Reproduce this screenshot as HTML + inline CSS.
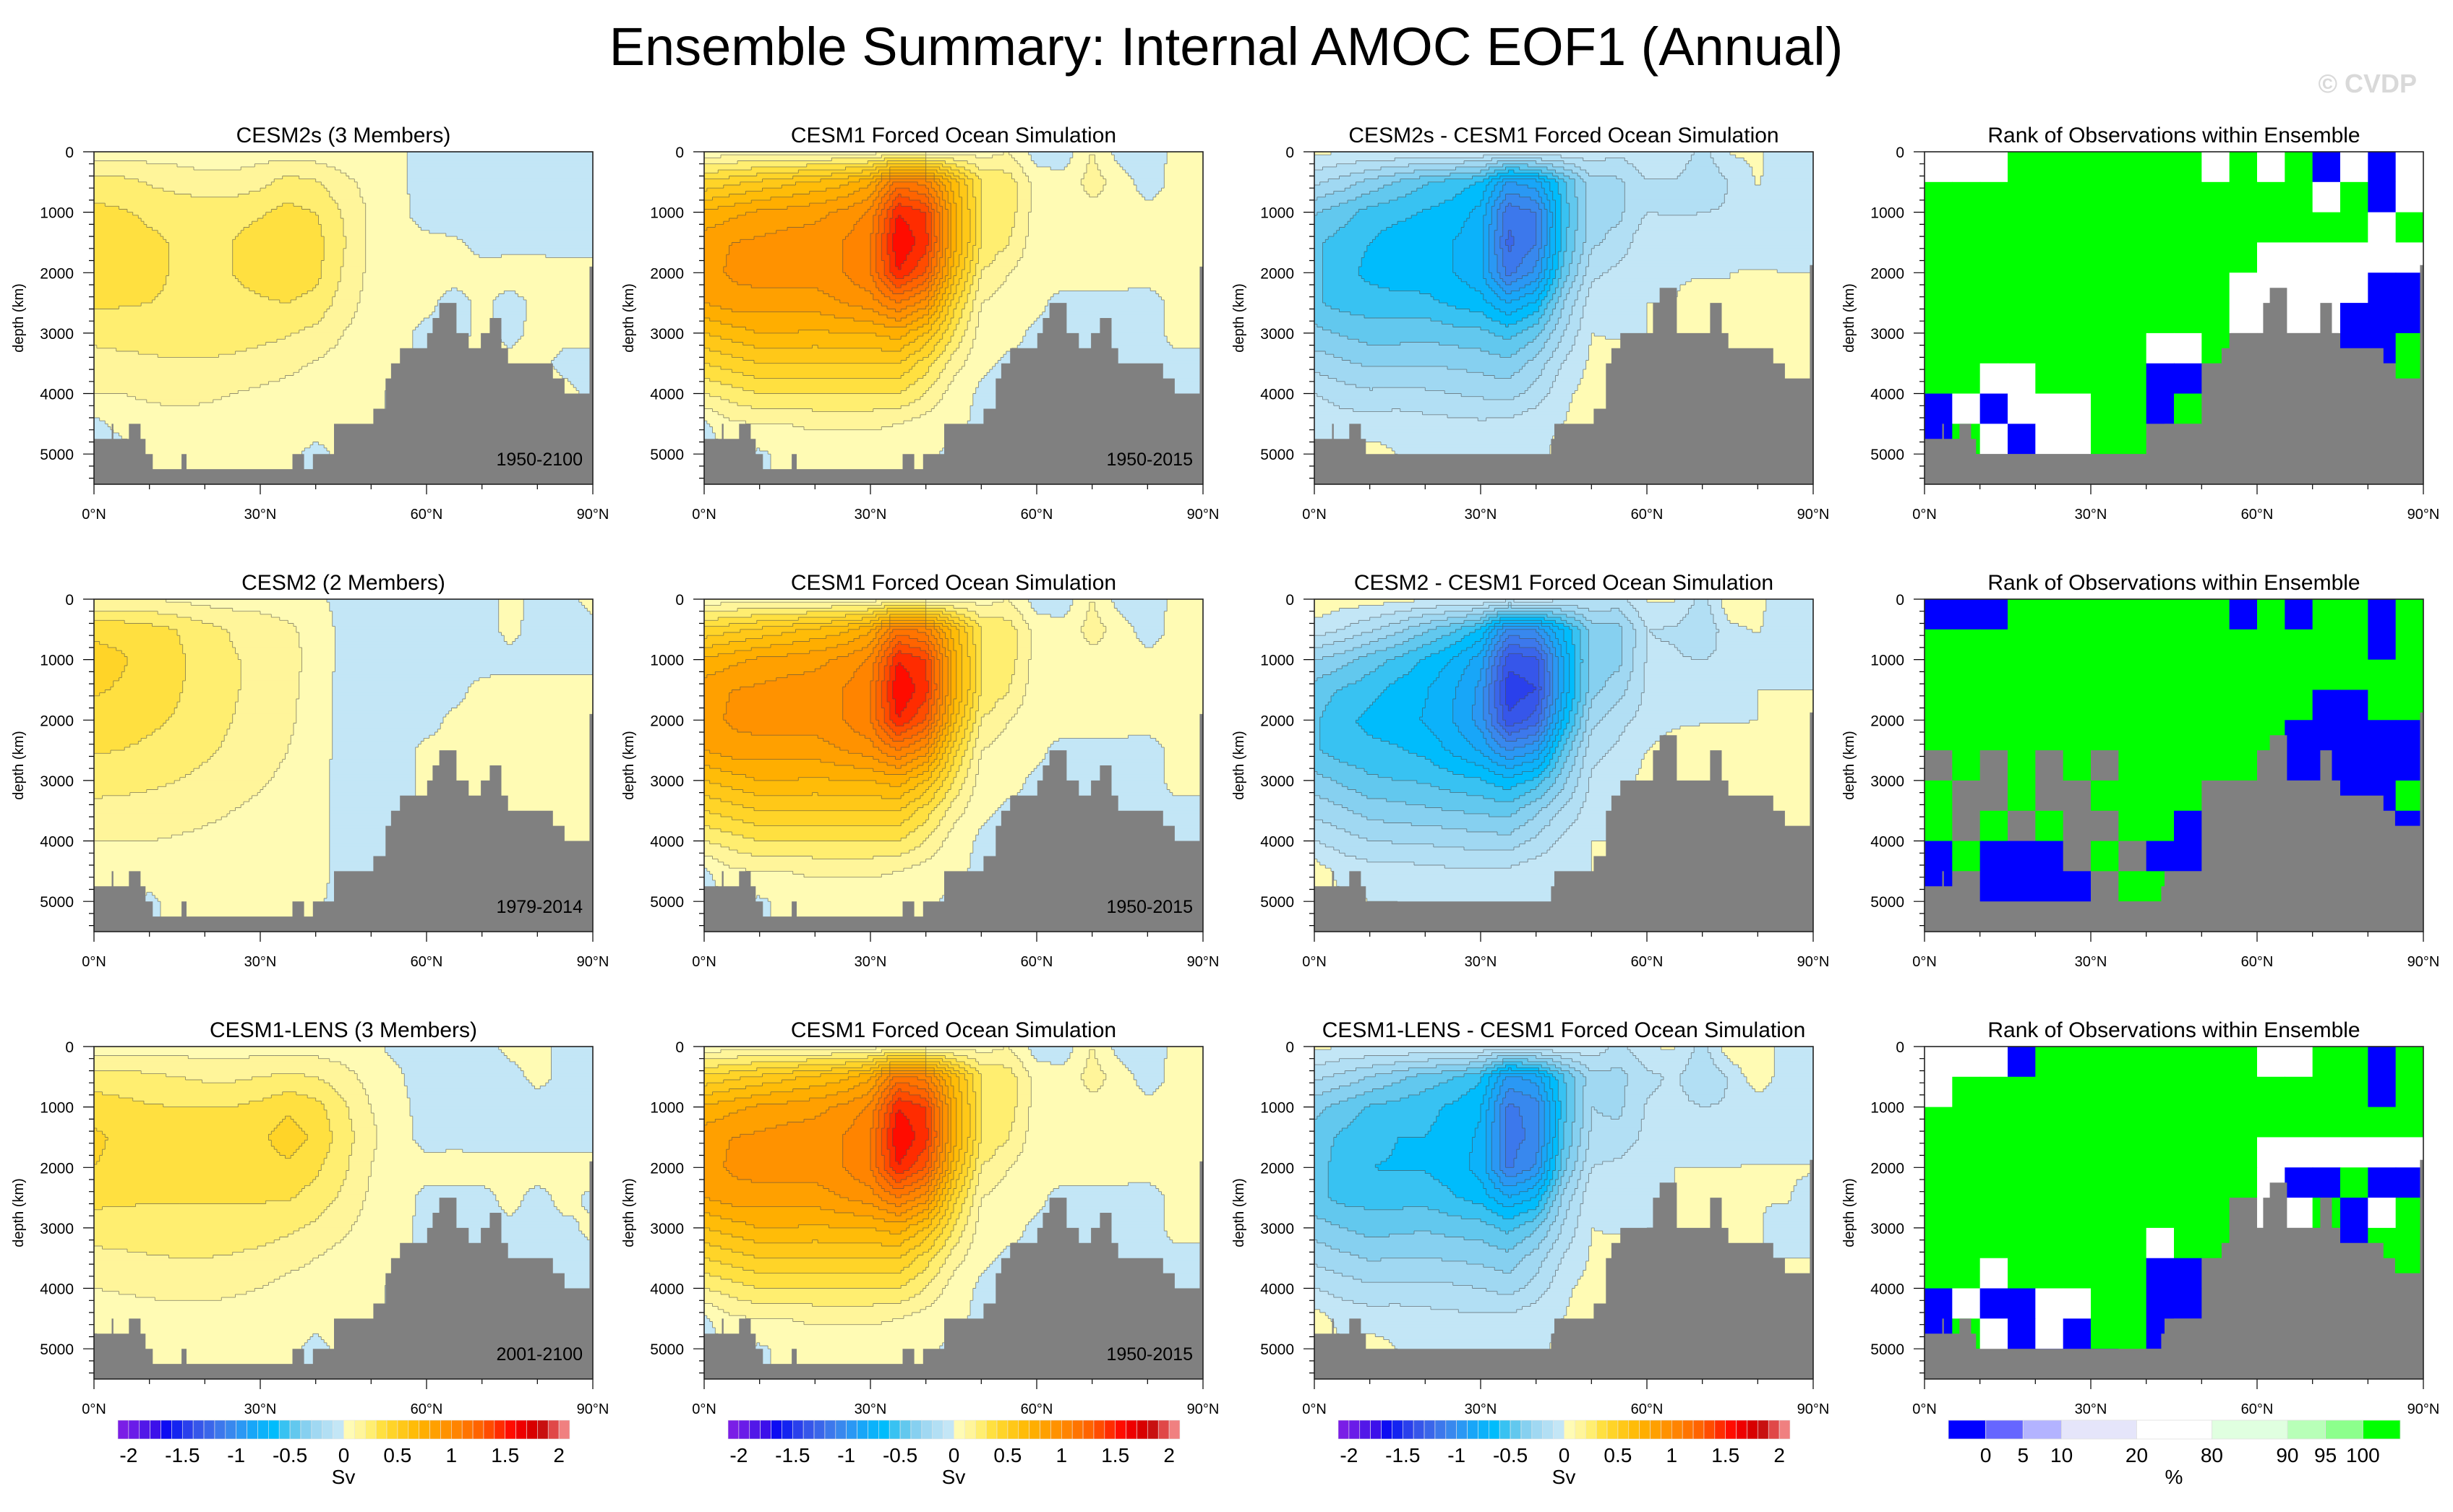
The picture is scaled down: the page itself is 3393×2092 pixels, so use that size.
<!DOCTYPE html>
<html><head><meta charset="utf-8">
<style>
html,body{margin:0;padding:0;background:#fff;}
body{width:3393px;height:2087px;overflow:hidden;font-family:"Liberation Sans",sans-serif;}
svg text{font-family:"Liberation Sans",sans-serif;}
</style></head>
<body>
<svg id="fig" xmlns="http://www.w3.org/2000/svg" width="3393" height="2087" viewBox="0 0 3393 2087">
<text x="1696" y="90" font-size="74" text-anchor="middle" fill="#000">Ensemble Summary: Internal AMOC EOF1 (Annual)</text>
<text x="3343" y="128" font-size="36" font-weight="bold" text-anchor="end" fill="#d9d9d9">© CVDP</text>
</svg>
<script>
// ---------- data ----------
const lats=[0,5,10,15,20,25,30,35,40,45,50,55,60,65,70,75,80,85,90];
const depths=[0,500,1000,1500,2000,2500,3000,3500,4000,4500,5000,5500];
const xTickLabels=["0°N","30°N","60°N","90°N"];
const xTickValues=[0,30,60,90];
const yTickValues=[0,1000,2000,3000,4000,5000];
const svTickLabels=["-2","-1.5","-1","-0.5","0","0.5","1","1.5","2"];
const pctTickLabels=["0","5","10","20","80","90","95","100"];
const pctBounds=[0,51.7,103.3,156.6,260.5,364.4,468.9,521.6,573.3,625];

const cesm2sField=[
[0.05,0.05,0.05,0.05,0.05,0.05,0.05,0.05,0.04,0.03,0.02,0.02,-0.05,-0.05,-0.04,-0.04,-0.04,-0.04,-0.04],
[0.24,0.23,0.19,0.16,0.13,0.13,0.17,0.24,0.21,0.13,0.06,0.03,-0.06,-0.08,-0.05,-0.04,-0.04,-0.04,-0.04],
[0.33,0.31,0.28,0.27,0.26,0.27,0.29,0.33,0.3,0.19,0.08,0.03,-0.05,-0.08,-0.04,-0.04,-0.04,-0.04,-0.04],
[0.38,0.36,0.32,0.29,0.29,0.3,0.34,0.37,0.34,0.21,0.08,0.03,0.03,0.02,-0.03,-0.03,-0.03,-0.03,-0.03],
[0.38,0.36,0.32,0.29,0.29,0.3,0.33,0.36,0.33,0.19,0.07,0.03,0.03,0.03,0.03,0.04,0.04,0.03,0.03],
[0.32,0.31,0.3,0.29,0.28,0.28,0.29,0.3,0.27,0.15,0.06,0.03,0.02,-0.03,0.02,-0.03,0.02,0.02,0.02],
[0.23,0.24,0.25,0.25,0.25,0.24,0.23,0.21,0.17,0.1,0.05,0.02,-0.02,-0.03,0.02,-0.02,0.02,0.02,0.02],
[0.16,0.17,0.18,0.19,0.19,0.18,0.16,0.13,0.09,0.06,0.04,0.02,-0.02,0.02,0.02,0.02,0.02,-0.02,-0.02],
[0.1,0.1,0.12,0.13,0.12,0.1,0.08,0.06,0.04,0.03,0.02,-0.02,0.02,0.02,0.02,0.02,0.02,0.02,-0.02],
[-0.03,0.03,0.05,0.06,0.06,0.05,0.04,0.03,0.03,0.02,0.02,-0.02,0.02,0.02,0.02,0.02,0.02,0.02,0.02],
[-0.05,-0.04,0.02,0.03,0.03,0.03,0.02,0.02,-0.02,0.02,0.02,0.02,0.02,0.02,0.02,0.02,0.02,0.02,0.02],
[-0.05,-0.04,0.02,0.03,0.03,0.03,0.02,0.02,-0.02,0.02,0.02,0.02,0.02,0.02,0.02,0.02,0.02,0.02,0.02]];

const cesm2Field=[
[0.1,0.1,0.1,0.08,0.06,0.05,0.05,0.04,0.03,-0.04,-0.04,-0.04,-0.04,-0.04,-0.04,0.03,-0.03,-0.03,0.03],
[0.38,0.37,0.34,0.3,0.24,0.19,0.16,0.12,0.06,-0.03,-0.06,-0.08,-0.05,-0.08,-0.05,0.03,-0.04,-0.04,-0.03],
[0.43,0.41,0.37,0.32,0.26,0.21,0.17,0.14,0.06,-0.03,-0.05,-0.08,-0.04,-0.06,-0.04,-0.03,-0.03,-0.03,-0.03],
[0.41,0.39,0.36,0.31,0.26,0.21,0.17,0.13,0.05,-0.03,-0.04,-0.04,-0.04,-0.03,0.03,0.03,0.03,0.03,0.03],
[0.37,0.35,0.32,0.29,0.24,0.2,0.16,0.12,0.05,-0.03,-0.04,-0.03,-0.03,0.02,0.03,0.03,0.03,0.03,0.03],
[0.31,0.3,0.28,0.26,0.22,0.18,0.14,0.1,0.04,-0.03,-0.03,-0.03,0.02,0.02,0.03,0.03,0.03,0.03,0.03],
[0.24,0.23,0.22,0.2,0.17,0.14,0.11,0.08,0.03,-0.03,-0.03,-0.03,0.02,0.02,0.02,0.02,0.02,0.02,0.02],
[0.17,0.17,0.16,0.14,0.12,0.1,0.08,0.06,0.03,-0.03,-0.03,-0.02,0.02,0.02,0.02,0.02,0.02,0.02,0.02],
[0.1,0.1,0.1,0.09,0.08,0.07,0.05,0.04,0.02,-0.02,-0.02,-0.02,0.02,0.02,0.02,0.02,0.02,0.02,0.02],
[0.04,0.05,0.05,0.05,0.05,0.04,0.03,0.02,0.02,-0.02,-0.02,-0.02,0.02,0.02,0.02,0.02,0.02,0.02,0.02],
[-0.03,0.02,-0.02,0.03,0.03,0.02,0.02,0.02,0.01,-0.02,-0.02,-0.02,0.02,0.02,0.02,0.02,0.02,0.02,0.02],
[-0.03,0.02,-0.02,0.03,0.03,0.02,0.02,0.02,0.01,-0.02,-0.02,-0.02,0.02,0.02,0.02,0.02,0.02,0.02,0.02]];

const lensField=[
[0.05,0.05,0.05,0.05,0.05,0.05,0.05,0.05,0.05,0.04,0.03,-0.04,-0.05,-0.04,-0.04,0.03,0.03,-0.03,-0.03],
[0.25,0.24,0.22,0.2,0.18,0.18,0.2,0.22,0.2,0.14,0.06,0.02,-0.08,-0.05,-0.04,-0.04,0.03,-0.03,-0.03],
[0.35,0.33,0.31,0.3,0.3,0.3,0.33,0.38,0.34,0.22,0.1,0.03,-0.04,-0.04,-0.04,-0.04,-0.04,-0.04,-0.04],
[0.42,0.38,0.36,0.35,0.35,0.36,0.38,0.45,0.38,0.25,0.12,0.03,-0.03,-0.03,-0.04,-0.04,-0.04,-0.04,-0.04],
[0.4,0.37,0.35,0.34,0.34,0.35,0.36,0.38,0.32,0.22,0.1,0.03,0.03,0.04,0.04,0.04,0.04,0.04,0.04],
[0.33,0.32,0.31,0.31,0.31,0.31,0.31,0.31,0.26,0.18,0.08,0.03,-0.02,-0.03,-0.03,0.03,-0.03,0.03,-0.02],
[0.25,0.25,0.26,0.27,0.27,0.26,0.25,0.22,0.18,0.12,0.05,0.02,-0.02,-0.03,-0.02,-0.02,-0.02,-0.02,0.02],
[0.17,0.18,0.19,0.2,0.2,0.19,0.17,0.14,0.1,0.06,0.03,0.02,-0.02,-0.02,-0.02,-0.02,-0.02,-0.02,-0.02],
[0.1,0.11,0.12,0.13,0.13,0.12,0.1,0.06,0.04,0.03,0.02,-0.02,-0.02,-0.02,-0.02,-0.02,-0.02,-0.02,-0.02],
[0.03,0.05,0.06,0.06,0.06,0.05,0.04,0.03,0.02,0.02,0.02,-0.02,-0.02,-0.02,-0.02,-0.02,-0.02,-0.02,-0.02],
[-0.03,0.02,0.02,0.03,0.03,0.02,0.02,0.02,-0.02,0.02,0.02,-0.02,-0.02,-0.02,-0.02,-0.02,-0.02,-0.02,-0.02],
[-0.03,0.02,0.02,0.03,0.03,0.02,0.02,0.02,-0.02,0.02,0.02,-0.02,-0.02,-0.02,-0.02,-0.02,-0.02,-0.02,-0.02]];

const forcedField=[
[0.02,0.05,0.05,0.05,0.05,0.05,0.05,0.1,0.05,0.05,0.05,0.1,-0.05,-0.05,0.1,-0.05,-0.06,0.03,0.03],
[0.42,0.47,0.52,0.57,0.62,0.67,0.78,1.15,1.05,0.65,0.3,0.25,0.05,0.03,0.15,0.05,-0.05,0.03,0.03],
[0.72,0.77,0.82,0.84,0.87,0.92,1.02,1.5,1.4,0.75,0.3,0.25,0.05,0.03,0.06,0.05,0.03,0.03,0.03],
[0.86,0.9,0.92,0.95,0.95,1.0,1.1,1.6,1.45,0.75,0.3,0.2,0.04,0.04,0.04,0.04,0.03,0.03,0.03],
[0.85,0.92,0.95,0.95,0.95,1.0,1.1,1.5,1.3,0.65,0.2,0.1,0.03,0.04,0.04,0.04,0.03,0.03,0.03],
[0.8,0.85,0.85,0.85,0.85,0.9,0.95,1.1,0.95,0.45,0.1,0.05,0.02,-0.03,-0.03,-0.03,-0.03,0.02,0.02],
[0.6,0.65,0.7,0.7,0.68,0.7,0.7,0.75,0.6,0.3,0.05,0.03,-0.02,-0.03,-0.03,-0.03,-0.03,0.02,0.02],
[0.4,0.45,0.5,0.5,0.5,0.5,0.5,0.5,0.35,0.15,0.02,-0.02,-0.02,-0.02,-0.02,-0.02,-0.02,-0.02,-0.02],
[0.2,0.25,0.3,0.3,0.3,0.3,0.3,0.3,0.2,0.05,-0.02,-0.02,-0.02,-0.02,-0.02,-0.02,-0.02,-0.02,-0.02],
[-0.02,0.08,0.1,0.1,0.12,0.12,0.12,0.1,0.05,0.02,-0.02,-0.02,-0.02,-0.02,-0.02,-0.02,-0.02,-0.02,-0.02],
[-0.05,0.0,-0.02,0.03,0.04,0.04,0.03,0.02,0.02,-0.02,-0.02,-0.02,-0.02,-0.02,-0.02,-0.02,-0.02,-0.02,-0.02],
[-0.05,0.0,-0.02,0.03,0.04,0.04,0.03,0.02,0.02,-0.02,-0.02,-0.02,-0.02,-0.02,-0.02,-0.02,-0.02,-0.02,-0.02]];

// rank categories per 5deg x 500m: B=<0, W=20-80, G=>100, X=missing
const rank1=["WWWGGGGGGGWGWGBWBW","GGGGGGGGGGGGGGWGBW","GGGGGGGGGGGGGGGGWG","GGGGGGGGGGGGWWWWWW","GGGGGGGGGGGWWWWWBB","GGGGGGGGGGGWWWWBBB","GGGGGGGGWWGXXXXBBG","GGWWGGGGBBXXXXXXXG","BWBWWWGGBGXXXXXXXX","BGWBWWGGXXXXXXXXXX","XXXXXXXXXXXXXXXXXX"];
const rank2=["BBBGGGGGGGGBGBGGBG","GGGGGGGGGGGGGGGGBG","GGGGGGGGGGGGGGGGGG","GGGGGGGGGGGGGGBBGG","GGGGGGGGGGGGGBBBBB","XGXGXGXGGGGGXBBBBB","GXXGXXGGGGXXXXXBBG","GXGXGXXGGBXXXXXXBB","BGBBBXGXBBXXXXXXXX","BXBBBBXGGXXXXXXXXX","XXBBBBXXXXXXXXXXXX"];
const rank3=["WWWBGGGGGGGGWWGGBG","WGGGGGGGGGGGGGGGBG","GGGGGGGGGGGGGGGGGG","GGGGGGGGGGGGWWWWWW","GGGGGGGGGGGGWBBGBB","GGGGGGGGGGGXWWGBWG","GGGGGGGGWGGXXXXBGG","GGWGGGGGBBXXXXXXGG","BWBBWWGGBBXXXXXXXX","BGWBWBGGBXXXXXXXXX","XXWBBBBGXXXXXXXXXX"];

const bathyBLat=[0,3.2,3.5,6.3,8.4,9.3,10.6,15.8,16.7,35.8,37.9,39.5,43.3,50.4,52.6,53.6,55.2,60.1,61.1,62.3,65.4,67.6,69.8,71.4,73.5,74.7,82.8,84.9,89.4];
const bathyBDep=[4750,4500,4750,4500,4750,5000,5250,5000,5250,5000,5250,5000,4500,4250,3750,3500,3250,3000,2750,2500,3000,3250,3000,2750,3250,3500,3750,4000,1900];
const bathyCLat=[0,3.2,3.5,6.3,8.4,9.3,42.7,43.3,50.4,52.6,53.6,55.2,61.1,62.3,65.4,71.4,73.5,74.7,82.8,84.9,89.4];
const bathyCDep=[4750,4500,4750,4500,4750,5000,4750,4500,4250,3500,3250,3000,2500,2250,3000,2500,3000,3250,3500,3750,1875];

const posColors=['#fffbb4','#fff59a','#ffee70','#ffe040','#ffd428','#ffc818','#ffbc08','#ffae00','#ffa000','#ff9200','#ff8400','#ff7400','#ff6400','#ff4c00','#ff2c00','#ff0c00','#ee0000','#d80000','#c81010','#e04848','#f08080','#ffb4b4'];
const negColors=['#c3e6f6','#b2dff4','#a0d8f2','#86d0f0','#62c8ee','#38c2f2','#00bcfc','#0cb2fa','#18a6f8','#2a98f4','#3888ee','#3c78ec','#3a66ea','#3656ea','#2a40ec','#1424f0','#0d0cf2','#3c10ea','#5218e8','#6a1ce8','#7a1ee6'];
const rankColors={B:'#0000ff',W:'#ffffff',G:'#00ff00',X:'#808080'};
const pctColors=['#0000ff','#6666ff','#b3b3ff','#e5e5fa','#ffffff','#e0ffe0','#b8ffb8','#8cff8c','#00ff00'];

// ---------- layout ----------
const NS='http://www.w3.org/2000/svg';
const svg=document.getElementById('fig');
const colX=[130,974,1818,2662], rowY=[210,829,1448], PW=690, PH=460, DMAX=5500;
function el(tag,attrs,parent){const e=document.createElementNS(NS,tag);for(const k in attrs)e.setAttribute(k,attrs[k]);(parent||svg).appendChild(e);return e;}
function txt(s,attrs,parent){const e=el('text',attrs,parent);e.textContent=s;return e;}
function xScale(x0,lat){return x0+lat/90*PW;}
function yScale(y0,d){return y0+d/DMAX*PH;}
function sample(f,lat,d){let i=Math.min(lats.length-1.0001,lat/5), j=Math.min(depths.length-1.0001,d/500);
 const i0=Math.floor(i), j0=Math.floor(j), fi=i-i0, fj=j-j0;
 return (f[j0][i0]*(1-fi)+f[j0][i0+1]*fi)*(1-fj)+(f[j0+1][i0]*(1-fi)+f[j0+1][i0+1]*fi)*fj;}
function colorBin(v){if(v>=0)return Math.min(21,Math.floor(v/0.1)); return -1-Math.min(20,Math.floor(-v/0.1));}
function binColor(b){return b>=0?posColors[b]:negColors[-1-b];}
function diffField(a,b){return a.map((r,j)=>r.map((v,i)=>v-b[j][i]));}

function drawField(g,x0,y0,f){
 const NX=180,NY=110,dl=90/NX,dd=DMAX/NY;
 const bins=[];
 for(let j=0;j<NY;j++){bins.push([]);for(let i=0;i<NX;i++)bins[j].push(colorBin(sample(f,(i+0.5)*dl,(j+0.5)*dd)));}
 for(let j=0;j<NY;j++){let i=0;while(i<NX){let k=i;while(k+1<NX&&bins[j][k+1]===bins[j][i])k++;
  const r=el('rect',{x:xScale(x0,i*dl).toFixed(2),y:yScale(y0,j*dd).toFixed(2),width:(xScale(x0,(k+1)*dl)-xScale(x0,i*dl)+0.6).toFixed(2),height:(PH/NY+0.6).toFixed(2),fill:binColor(bins[j][i])},g);
  
  
  i=k+1;}}
 let p='';
 for(let j=0;j<NY;j++)for(let i=0;i<NX;i++){
  if(i+1<NX&&bins[j][i]!==bins[j][i+1]){const x=xScale(x0,(i+1)*dl).toFixed(1);p+='M'+x+' '+yScale(y0,j*dd).toFixed(1)+'V'+yScale(y0,(j+1)*dd).toFixed(1);}
  if(j+1<NY&&bins[j][i]!==bins[j+1][i]){const y=yScale(y0,(j+1)*dd).toFixed(1);p+='M'+xScale(x0,i*dl).toFixed(1)+' '+y+'H'+xScale(x0,(i+1)*dl).toFixed(1);}
 }
 const cl=el('path',{d:p,stroke:'#4a4a4a','stroke-width':0.9,fill:'none','stroke-opacity':0.6},g);
 
 
}
function drawRank(g,x0,y0,rk){
 rk.forEach((row,j)=>{for(let i=0;i<18;i++){const c=row[i]||'X';
  const r=el('rect',{x:xScale(x0,i*5).toFixed(2),y:yScale(y0,j*500).toFixed(2),width:(PW/18+0.6).toFixed(2),height:(yScale(y0,500)-y0+0.6).toFixed(2),fill:rankColors[c]},g);
  
  }});
}
function drawBathy(g,x0,y0,bl,bd){
 let p='M'+x0+' '+yScale(y0,DMAX);
 for(let k=0;k<bl.length;k++){const xa=xScale(x0,bl[k]),xb=xScale(x0,k+1<bl.length?bl[k+1]:90),y=yScale(y0,bd[k]);p+='L'+xa.toFixed(1)+' '+y.toFixed(1)+'L'+xb.toFixed(1)+' '+y.toFixed(1);}
 p+='L'+(x0+PW)+' '+yScale(y0,DMAX)+'Z';
 const b=el('path',{d:p,fill:'#808080'},g);
 
 
}
function drawAxes(x0,y0){
 const g=el('g',{});
 
 
 let p='';
 for(let lat=0;lat<=90;lat+=10){const x=xScale(x0,lat).toFixed(1);p+='M'+x+' '+(y0+PH)+'V'+(y0+PH+(lat%30===0?14:7));}
 for(let d=0;d<=DMAX;d+=200){const y=yScale(y0,d).toFixed(1);p+='M'+x0+' '+y+'H'+(x0-(d%1000===0?15:7));}
 const t=el('path',{d:p,stroke:'#000','stroke-width':1.2,fill:'none'},g);
 
 
 xTickValues.forEach((v,k)=>{const e=txt(xTickLabels[k],{x:xScale(x0,v),y:y0+PH+48,'font-size':20,'text-anchor':'middle'},g);
  
  });
 yTickValues.forEach(v=>{const e=txt(String(v),{x:x0-28,y:yScale(y0,v)+8,'font-size':21,'text-anchor':'end'},g);
  
  });
 const yl=txt('depth (km)',{x:0,y:0,'font-size':20,'text-anchor':'middle',transform:'translate('+(x0-98)+' '+(y0+PH/2)+') rotate(-90)'},g);
 
 
 const fr=el('rect',{x:x0,y:y0,width:PW,height:PH,fill:'none',stroke:'#222','stroke-width':1.6},g);
 
 
}

const modelFields=[cesm2sField,cesm2Field,lensField];
const modelNames=["CESM2s (3 Members)","CESM2 (2 Members)","CESM1-LENS (3 Members)"];
const diffNames=["CESM2s - CESM1 Forced Ocean Simulation","CESM2 - CESM1 Forced Ocean Simulation","CESM1-LENS - CESM1 Forced Ocean Simulation"];
const modelYears=["1950-2100","1979-2014","2001-2100"];
const ranks=[rank1,rank2,rank3];

for(let r=0;r<3;r++){
 const y0=rowY[r];
 const titles=[modelNames[r],"CESM1 Forced Ocean Simulation",diffNames[r],"Rank of Observations within Ensemble"];
 for(let c=0;c<4;c++){
  const x0=colX[c];
  const g=el('g',{});
  
  
  const clipId='clip'+r+c;
  const cp=el('clipPath',{id:clipId},g);el('rect',{x:x0,y:y0,width:PW,height:PH},cp);
  const inner=el('g',{'clip-path':'url(#'+clipId+')'},g);
  if(c===0)drawField(inner,x0,y0,modelFields[r]);
  if(c===1)drawField(inner,x0,y0,forcedField);
  if(c===2)drawField(inner,x0,y0,diffField(modelFields[r],forcedField));
  if(c===3)drawRank(inner,x0,y0,ranks[r]);
  if(c<2)drawBathy(inner,x0,y0,bathyBLat,bathyBDep);else drawBathy(inner,x0,y0,bathyCLat,bathyCDep);
  const t=txt(titles[c],{x:x0+PW/2,y:y0-13,'font-size':30,'text-anchor':'middle'},g);
  
  
  if(c<2){const yr=txt(c===0?modelYears[r]:"1950-2015",{x:x0+PW-14,y:y0+PH-26,'font-size':25,'text-anchor':'end'},g);
   
   }
  drawAxes(x0,y0);
 }
}

// ---------- colorbars ----------
const allSv=negColors.slice().reverse().concat(posColors.slice(0,21));
for(let c=0;c<3;c++){
 const bx=colX[c]+33, by=1965, bw=625/42;
 const g=el('g',{});
 
 
 allSv.forEach((col,k)=>{const r=el('rect',{x:(bx+k*bw).toFixed(2),y:by,width:bw.toFixed(2),height:26,fill:col,stroke:'#e6e6e6','stroke-width':0.6},g);
  
  });
 svTickLabels.forEach((s,k)=>{const e=txt(s,{x:bx+(1+5*k)*bw,y:2023,'font-size':28,'text-anchor':'middle'},g);
  
  });
 const u=txt('Sv',{x:bx+312,y:2053,'font-size':28,'text-anchor':'middle'},g);
 
 
}
{
 const bx=colX[3]+33, by=1965;
 const g=el('g',{});
 
 
 pctColors.forEach((col,k)=>{const r=el('rect',{x:bx+pctBounds[k],y:by,width:pctBounds[k+1]-pctBounds[k],height:26,fill:col,stroke:'#e0e0e0','stroke-width':0.8},g);
  
  });
 pctTickLabels.forEach((s,k)=>{const e=txt(s,{x:bx+pctBounds[k+1],y:2023,'font-size':28,'text-anchor':'middle'},g);
  
  });
 const u=txt('%',{x:bx+312,y:2053,'font-size':28,'text-anchor':'middle'},g);
 
 
}
</script>
</body></html>
